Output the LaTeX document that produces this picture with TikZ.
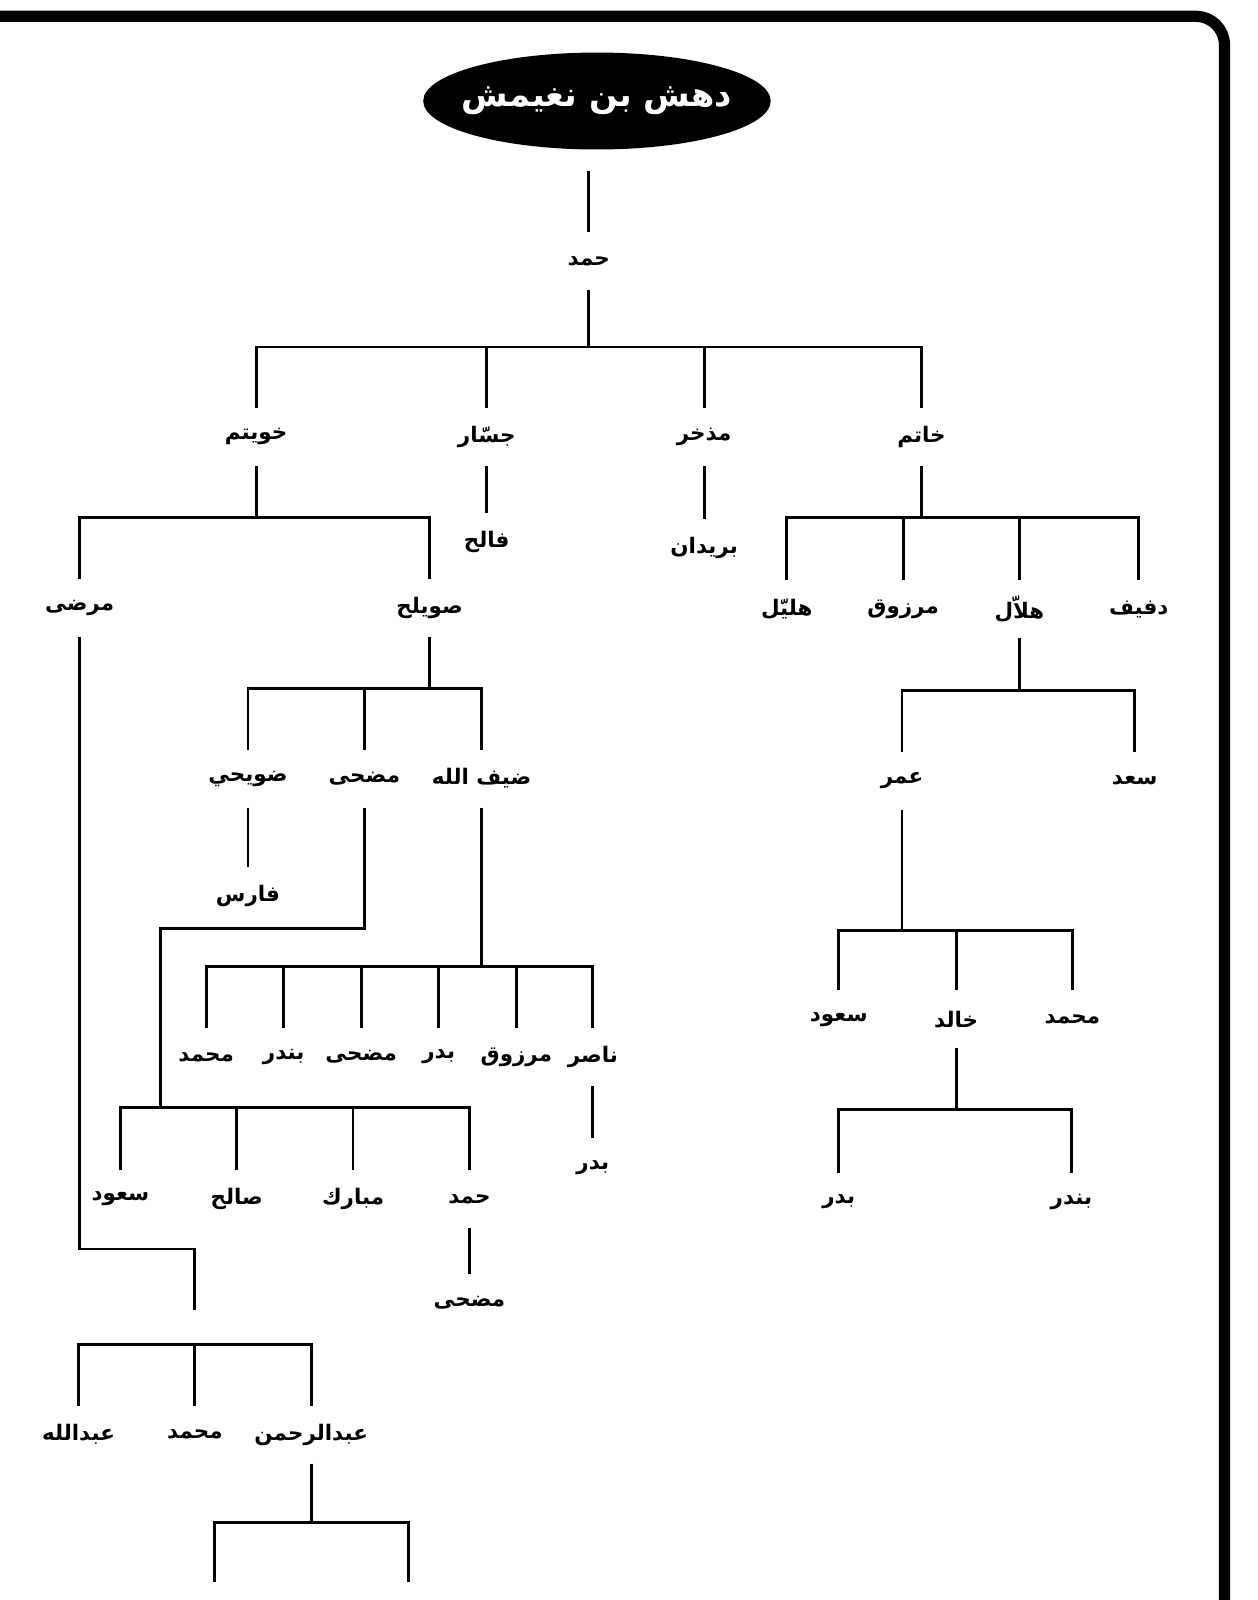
\documentclass[tikz,border=0pt]{standalone}
\usepackage{fontspec}
\usetikzlibrary{shapes.geometric}
\newfontfamily\arabicfont[Script=Arabic]{DejaVu Sans}
\TeXXeTstate=1
\newcommand{\arname}[1]{\beginR #1\endR}

\begin{document}
\begin{tikzpicture}[x=0.5pt, y=-0.5pt, line width=1.4pt,
    kin/.style={font=\arabicfont\bfseries\fontsize{10.5}{12}\selectfont, inner sep=0pt, minimum height=27pt},
    elder/.style={ellipse, fill=black, text=white, inner xsep=-6pt, inner ysep=0pt, outer sep=10.5pt,
        minimum width=164pt, minimum height=47.5pt, font=\arabicfont\bfseries\fontsize{16.5}{20}\selectfont}]
    \useasboundingbox (0,0) rectangle (1232,1568);
    % frame
    \draw[line width=5.5pt, rounded corners=14pt] (-20,16) -- (1200,16) -- (1200,1600);

    \node[elder] (root) at (585,99) {\arname{دهش بن نغيمش}};
    \node[kin] (hamad) at (577,256) {\arname{حمد}};
    \draw (hamad.north |- root.south) -- (hamad.north);

    % sons of Hamad
    \node[kin] (khuwaitim) at (251,428) {\arname{خويتم}};
    \node[kin] (jassar) at (477,428) {\arname{جسّار}};
    \node[kin] (mudhkhir) at (690,428) {\arname{مذخر}};
    \node[kin] (khatim) at (903,428) {\arname{خاتم}};
    \coordinate (barhamad) at (0,340);
    \draw (hamad.south) -- (hamad.south |- barhamad);
    \draw (khuwaitim.north) |- (khatim.north |- barhamad) -- (khatim.north);
    \foreach \n in {jassar,mudhkhir} \draw (\n.north) -- (\n.north |- barhamad);

    \node[kin] (falih) at (477,531) {\arname{فالح}};
    \draw (jassar.south) -- (falih.north);
    \node[kin] (buraidan) at (690,537) {\arname{بريدان}};
    \draw (mudhkhir.south) -- (buraidan.north);

    % sons of Khatim
    \node[kin] (hulail) at (771,597) {\arname{هليّل}};
    \node[kin] (marzouq) at (885,597) {\arname{مرزوق}};
    \node[kin] (hallal) at (999,597) {\arname{هلاّل}};
    \node[kin] (dufaif) at (1116,597) {\arname{دفيف}};
    \coordinate (barkhatim) at (0,507);
    \draw (khatim.south) -- (khatim.south |- barkhatim);
    \draw (hulail.north) |- (dufaif.north |- barkhatim) -- (dufaif.north);
    \foreach \n in {marzouq,hallal} \draw (\n.north) -- (\n.north |- barkhatim);

    % sons of Khuwaitim
    \node[kin] (mardhi) at (78,596) {\arname{مرضى}};
    \node[kin] (suwailih) at (421,596) {\arname{صويلح}};
    \coordinate (barkhuwaitim) at (0,507);
    \draw (khuwaitim.south) -- (khuwaitim.south |- barkhuwaitim);
    \draw (mardhi.north) |- (suwailih.north |- barkhuwaitim) -- (suwailih.north);

    % sons of Suwailih
    \node[kin] (dhuwaihi) at (243,763) {\arname{ضويحي}};
    \node[kin] (mudhi) at (357,763) {\arname{مضحى}};
    \node[kin] (dhaifallah) at (472,763) {\arname{ضيف الله}};
    \coordinate (barsuwailih) at (0,675);
    \draw (suwailih.south) -- (suwailih.south |- barsuwailih);
    \draw (dhuwaihi.north) |- (dhaifallah.north |- barsuwailih) -- (dhaifallah.north);
    \draw (mudhi.north) -- (mudhi.north |- barsuwailih);

    \node[kin] (faris) at (243,878) {\arname{فارس}};
    \draw (dhuwaihi.south) -- (faris.north);

    % sons of Dhaifallah
    \node[kin] (muhammad1) at (202,1036) {\arname{محمد}};
    \node[kin] (bandar1) at (278,1036) {\arname{بندر}};
    \node[kin] (mudhi1) at (354,1036) {\arname{مضحى}};
    \node[kin] (badr1) at (430,1036) {\arname{بدر}};
    \node[kin] (marzouq1) at (506,1036) {\arname{مرزوق}};
    \node[kin] (nasir) at (581,1036) {\arname{ناصر}};
    \coordinate (bardhaif) at (0,947);
    \draw (dhaifallah.south) -- (dhaifallah.south |- bardhaif);
    \draw (muhammad1.north) |- (nasir.north |- bardhaif) -- (nasir.north);
    \foreach \n in {bandar1,mudhi1,badr1,marzouq1} \draw (\n.north) -- (\n.north |- bardhaif);

    \node[kin] (badr2) at (581,1144) {\arname{بدر}};
    \draw (nasir.south) -- (badr2.north);

    % sons of Mudhi
    \node[kin] (saud1) at (118,1175) {\arname{سعود}};
    \node[kin] (salih) at (232,1175) {\arname{صالح}};
    \node[kin] (mubarak) at (346,1175) {\arname{مبارك}};
    \node[kin] (hamad2) at (460,1175) {\arname{حمد}};
    \coordinate (mudhibend) at (157,910);
    \coordinate (barmudhi) at (0,1085);
    \draw (mudhi.south) |- (mudhibend) -- (mudhibend |- barmudhi);
    \draw (saud1.north) |- (hamad2.north |- barmudhi) -- (hamad2.north);
    \foreach \n in {salih,mubarak} \draw (\n.north) -- (\n.north |- barmudhi);

    \node[kin] (mudhi2) at (460,1277) {\arname{مضحى}};
    \draw (hamad2.south) -- (mudhi2.north);

    % line of Mardhi
    \coordinate (mardhibend) at (191,1224);
    \coordinate (mardhiend) at (191,1284);
    \draw (mardhi.south) |- (mardhibend) -- (mardhiend);

    \node[kin] (abdullah) at (77,1406) {\arname{عبدالله}};
    \node[kin] (muhammad2) at (191,1406) {\arname{محمد}};
    \node[kin] (abdulrahman) at (305,1406) {\arname{عبدالرحمن}};
    \coordinate (barmardhi) at (0,1318);
    \draw (abdullah.north) |- (abdulrahman.north |- barmardhi) -- (abdulrahman.north);
    \draw (muhammad2.north) -- (muhammad2.north |- barmardhi);

    \coordinate (leftend) at (210,1550);
    \coordinate (rightend) at (400,1550);
    \coordinate (barabdulrahman) at (0,1492);
    \draw (abdulrahman.south) -- (abdulrahman.south |- barabdulrahman);
    \draw (leftend) |- (rightend |- barabdulrahman) -- (rightend);

    % sons of Hallal
    \node[kin] (omar) at (884,765) {\arname{عمر}};
    \node[kin] (saad) at (1112,765) {\arname{سعد}};
    \coordinate (barhallal) at (0,677);
    \draw (hallal.south) -- (hallal.south |- barhallal);
    \draw (omar.north) |- (saad.north |- barhallal) -- (saad.north);

    % sons of Omar
    \node[kin] (saud2) at (822,999) {\arname{سعود}};
    \node[kin] (khalid) at (937,999) {\arname{خالد}};
    \node[kin] (muhammad3) at (1051,999) {\arname{محمد}};
    \coordinate (baromar) at (0,912);
    \draw (omar.south) -- (omar.south |- baromar);
    \draw (saud2.north) |- (muhammad3.north |- baromar) -- (muhammad3.north);
    \draw (khalid.north) -- (khalid.north |- baromar);

    % sons of Khalid
    \node[kin] (badr3) at (822,1178) {\arname{بدر}};
    \node[kin] (bandar2) at (1050,1178) {\arname{بندر}};
    \coordinate (barkhalid) at (0,1087);
    \draw (khalid.south) -- (khalid.south |- barkhalid);
    \draw (badr3.north) |- (bandar2.north |- barkhalid) -- (bandar2.north);
\end{tikzpicture}
\end{document}
